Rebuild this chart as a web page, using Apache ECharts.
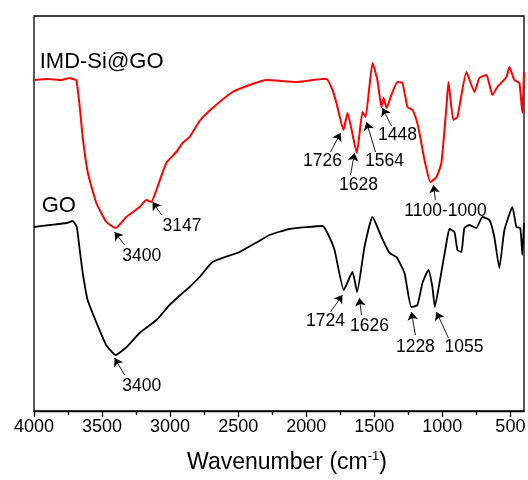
<!DOCTYPE html>
<html>
<head>
<meta charset="utf-8">
<script src="https://cdn.jsdelivr.net/npm/echarts@6/dist/echarts.min.js"></script>
<style>html,body{margin:0;padding:0;background:#fff}#c{width:528px;height:480px}</style>
</head>
<body>
<div id="c"></div>
<script>
// ---- Data (transmittance in arbitrary units) ----
const redWn = [4000,3900,3800,3738,3716,3689,3664,3640,3604,3542,3468,3400,3322,3224,3175,3138,3101,3028,2955,2908,2857,2783,2688,2541,2416,2292,2071,1880,1851,1807,1778,1726,1697,1628,1587,1564,1513,1477,1448,1432,1410,1374,1330,1293,1256,1220,1190,1168,1131,1087,1043,1007,970,955,919,889,823,764,728,676,632,596,529,507,471,434,412,400];
const redT = [331,332,331,333,332,331,304,271,238,208,189,183,194,204,211,209,221,248,259,268,274,290,303,319,326,331,329,332,332,321,308,281,298,258,299,294,348,331,304,313,303,316,329,328,304,301,291,278,251,229,234,248,304,329,291,294,339,319,333,336,316,324,334,344,331,328,298,339];

const blackWn = [4000,3880,3760,3716,3686,3664,3642,3606,3540,3470,3400,3319,3224,3100,3004,2908,2857,2783,2688,2490,2372,2269,2123,1880,1844,1792,1724,1660,1626,1572,1513,1447,1388,1337,1278,1228,1183,1146,1102,1073,1055,1021,970,948,911,889,860,838,801,750,706,654,618,581,544,485,456,427,412,400];
const blackT = [184,186,188,190,184,161,138,111,88,66,56,64,78,91,106,118,124,134,149,159,168,176,182,185,178,161,121,139,119,164,194,174,158,154,138,104,106,128,141,124,104,128,168,182,179,161,159,183,186,183,194,191,174,143,181,204,184,183,156,188];

const tickValues = [4000,3500,3000,2500,2000,1500,1000,500];
const minorTickValues = [3750,3250,2750,2250,1750,1250,750];

const seriesNames = ['IMD-Si@GO','GO'];
const seriesNameWn = [3958,3943];
const seriesNameT = [349,205];

const peakText = ['3400','3147','1726','1628','1564','1448','1100-1000','3400','1724','1626','1228','1055'];
const peakTextWn = [3209,2912,1880,1616,1425,1330,977,3209,1858,1535,1198,841];
const peakTextT = [154.5,184.5,249.5,226,250,276,199.5,24.5,89.5,84.5,63.5,63.5];
const arrowFromWn = [3334,3062,1822,1675,1491,1374,1051,3334,1822,1594,1198,955];
const arrowFromT = [166,196,259,236,259,285,211,36,99,96,76,73];
const arrowToWn = [3408,3129,1748,1645,1557,1440,1065,3408,1734,1609,1227,1043];
const arrowToT = [179,209,278,258,289,303,226,53,116,113,99,99];

// ---- Chart ----
const FONT = "'Liberation Sans', Arial, sans-serif";
const zip = (a, b) => a.map((v, i) => [v, b[i]]);
const chart = echarts.init(document.getElementById('c'), null, {renderer: 'canvas'});

const labelData = peakText.map((t, i) => ({name: t, value: [peakTextWn[i], peakTextT[i]]}));
const titleData = seriesNames.map((t, i) => ({name: t, value: [seriesNameWn[i], seriesNameT[i]]}));
const arrows = peakText.map((t, i) => [
  {coord: [arrowFromWn[i], arrowFromT[i]]},
  {coord: [arrowToWn[i], arrowToT[i]]}
]);

const xBase = {type: 'value', min: 400, max: 4000, inverse: true, position: 'bottom', splitLine: {show: false}};
const txt = {color: '#000', fontFamily: FONT, textBorderWidth: 0, textShadowBlur: 0, opacity: 1};

chart.setOption({
  animation: false,
  backgroundColor: '#fff',
  grid: {left: 34, right: 4, top: 16, bottom: 69, show: true, borderColor: '#000', borderWidth: 1.3, containLabel: false, outerBoundsMode: 'none'},
  xAxis: [
    Object.assign({}, xBase, {
      axisLine: {show: true, lineStyle: {color: '#000', width: 1.3}},
      axisTick: {show: true, length: 6, lineStyle: {color: '#000', width: 1.3}, customValues: tickValues},
      axisLabel: Object.assign({show: true, customValues: tickValues, fontSize: 18, margin: 7, formatter: v => String(v)}, txt),
      name: '{a|Wavenumber (cm}{s|-1}{a|)}',
      nameLocation: 'middle',
      nameGap: 39,
      nameTextStyle: {
        padding: [0, 0, 0, 16],
        rich: {
          a: Object.assign({fontSize: 23, lineHeight: 26}, txt),
          s: Object.assign({fontSize: 13, verticalAlign: 'top', lineHeight: 26}, txt)
        }
      }
    }),
    Object.assign({}, xBase, {
      axisLine: {show: false},
      axisTick: {show: true, length: 4, lineStyle: {color: '#000', width: 1.3}, customValues: minorTickValues},
      axisLabel: {show: false}
    })
  ],
  yAxis: {type: 'value', min: 0, max: 395, show: false},
  series: [
    {
      name: 'IMD-Si@GO', type: 'line', data: zip(redWn, redT), showSymbol: false, smooth: 0.15,
      lineStyle: {color: '#ff0000', width: 2}, silent: true
    },
    {
      name: 'GO', type: 'line', data: zip(blackWn, blackT), showSymbol: false, smooth: 0.15,
      lineStyle: {color: '#000', width: 1.8}, silent: true
    },
    {
      name: 'peaks', type: 'scatter', data: labelData, symbolSize: 0, silent: true,
      itemStyle: {color: '#000', opacity: 1},
      label: Object.assign({show: true, position: 'inside', formatter: p => p.name, fontSize: 17.5}, txt),
      markLine: {
        silent: true, animation: false,
        symbol: ['none', 'arrow'], symbolSize: 8,
        lineStyle: {color: '#000', width: 0.9, type: 'solid', opacity: 1},
        itemStyle: {color: '#000'},
        label: {show: false},
        emphasis: {disabled: true},
        data: arrows
      }
    },
    {
      name: 'titles', type: 'scatter', data: titleData, symbolSize: 0, silent: true,
      itemStyle: {color: '#000', opacity: 1},
      label: Object.assign({show: true, position: 'inside', align: 'left', formatter: p => p.name, fontSize: 22}, txt)
    }
  ]
});
</script>
</body>
</html>
